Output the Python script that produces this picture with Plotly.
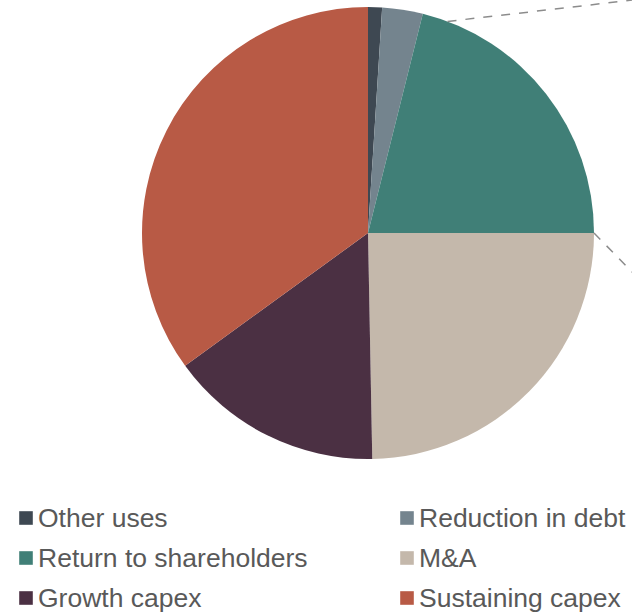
import math
import plotly.graph_objects as go

# Uses of cash, share of total (%)
categories = ["Other uses", "Reduction in debt", "Return to shareholders",
              "M&A", "Growth capex", "Sustaining capex"]
shares = [1.0, 2.9, 21.1, 24.7, 15.3, 35.0]
colors = ["#3e4852", "#74848e", "#407f77", "#c4b8ab", "#4b3043", "#b85a45"]

W, H = 632, 613
CX, CY, R = 368, 233, 226  # pie centre and radius in pixels


def px(x):
    return x / W


def py(y):
    return 1 - y / H


fig = go.Figure(go.Pie(
    labels=categories,
    values=shares,
    marker=dict(colors=colors, line=dict(width=0)),
    sort=False,
    direction="clockwise",
    rotation=0,
    textinfo="none",
    hoverinfo="label+percent",
    showlegend=False,
    domain=dict(x=[px(CX - R), px(CX + R)], y=[py(CY + R), py(CY - R)]),
))

# Dashed connector lines leading off to the right (pie-of-pie style)
connectors = [(20.6, (650, -2)), (90.0, (640, 280))]
for ang, (ex, ey) in connectors:
    a = math.radians(ang)
    sx, sy = CX + R * math.sin(a), CY - R * math.cos(a)
    fig.add_shape(type="line", xref="paper", yref="paper",
                  x0=px(sx), y0=py(sy), x1=px(ex), y1=py(ey),
                  line=dict(color="#8c8c8c", width=1.5, dash="dash"))

# Two-column legend
col_x = [26, 407]
row_y = [518, 558, 598]
for i, (name, col) in enumerate(zip(categories, colors)):
    mx, my = col_x[i % 2], row_y[i // 2]
    fig.add_shape(type="rect", xref="paper", yref="paper",
                  x0=px(mx - 6.8), x1=px(mx + 6.8),
                  y0=py(my + 6.8), y1=py(my - 6.8),
                  fillcolor=col, line=dict(width=0))
    fig.add_annotation(xref="paper", yref="paper",
                       x=px(mx + 9.5), y=py(my - 0.5), xanchor="left", yanchor="middle",
                       text=name, showarrow=False,
                       font=dict(family="Liberation Sans, Arial", size=26.5, color="#595959"))

fig.update_layout(
    width=W, height=H,
    margin=dict(l=0, r=0, t=0, b=0),
    paper_bgcolor="white",
    plot_bgcolor="white",
)

fig.write_html("out.html")
